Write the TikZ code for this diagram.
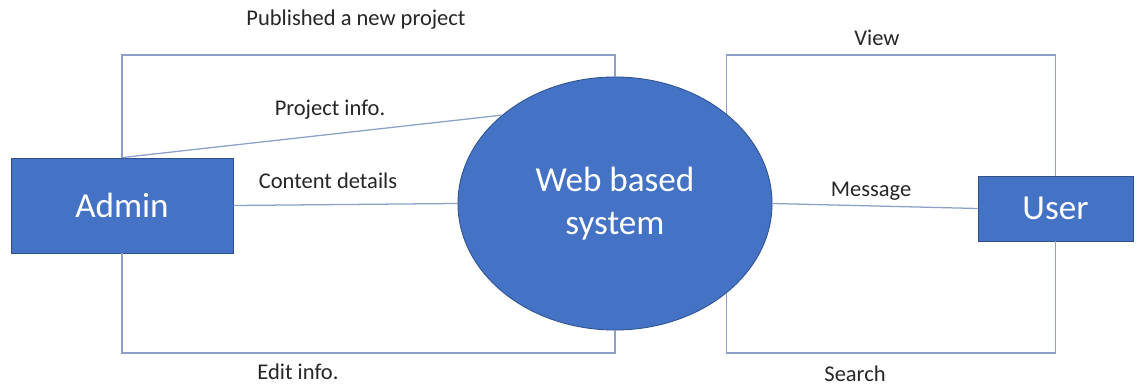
\documentclass[tikz,border=0pt]{standalone}
\usepackage{fontspec}
\setmainfont{Carlito}
\usetikzlibrary{shapes.geometric}
\definecolor{dfdblue}{HTML}{4472C4}
\definecolor{dfdedge}{HTML}{2F528F}
\definecolor{dfdline}{RGB}{140,160,200}
\definecolor{dfdtext}{HTML}{262626}
\begin{document}
\begin{tikzpicture}[x=0.025cm,y=-0.025cm,
  entity/.style={draw=dfdedge,fill=dfdblue,text=white,line width=0.6pt,inner sep=0pt,font=\fontsize{25}{31}\selectfont},
  flow/.style={dfdline,line width=0.9pt},
  lbl/.style={text=dfdtext,inner sep=0pt,font=\fontsize{16}{19}\selectfont}]
\useasboundingbox[fill=white] (0,0) rectangle (1137,386);
\node[entity,minimum width=5.55cm,minimum height=2.375cm] (admin) at (122,205.5) {Admin};
\node[entity,minimum width=3.875cm,minimum height=1.625cm] (user) at (1055.5,208.5) {User};
\node[entity,ellipse,minimum width=7.85cm,minimum height=6.325cm,align=center] (web) at (615,203.5) {Web based\\system};
\coordinate (toprow) at (0,55);
\coordinate (botrow) at (0,353);
\draw[flow] (admin.north) -- (admin.north |- toprow) -| (web.north);
\draw[flow] (admin.south) -- (admin.south |- botrow) -| (web.south);
\draw[flow] (admin.north) -- (web.142);
\draw[flow] (admin.east) -- (web.west);
\draw[flow] (web.north east) -- (web.north east |- toprow) -| (user.north);
\draw[flow] (web.south east) -- (web.south east |- botrow) -| (user.south);
\draw[flow] (web.east) -- (user.west);
\node[lbl] (pub) at (356,20) {Published a new project};
\node[lbl] (pinfo) at (330,110) {Project info.};
\node[lbl] (cdet) at (328,181) {Content details};
\node[lbl] (edit) at (298,372) {Edit info.};
\node[lbl] (view) at (877,38) {View};
\node[lbl] (msg) at (871,191) {Message};
\node[lbl] (search) at (855,374) {Search};
\end{tikzpicture}
\end{document}
